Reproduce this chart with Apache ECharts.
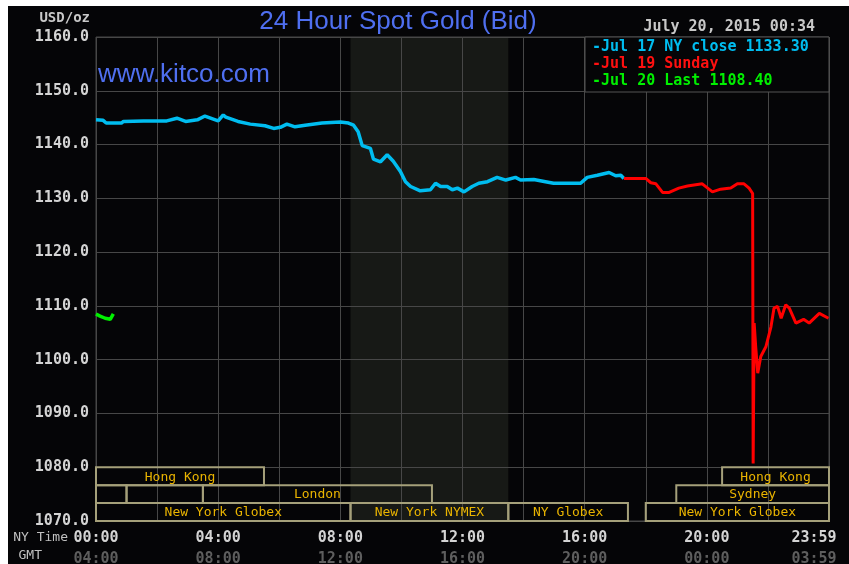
<!DOCTYPE html>
<html><head><meta charset="utf-8">
<script src="https://cdn.jsdelivr.net/npm/echarts@6/dist/echarts.min.js"></script>
<style>
html,body{margin:0;padding:0;background:#fff;width:849px;height:564px;overflow:hidden}
#c{position:absolute;left:8px;top:6px;width:841px;height:558px;background:#050507}
</style></head><body><div id="c"></div>
<script>
// ---- data ----
const yTicks = [1070,1080,1090,1100,1110,1120,1130,1140,1150,1160];
const xTickValues = [0,240,480,720,960,1200,1440];
const nyTickLabels = ['00:00','04:00','08:00','12:00','16:00','20:00','23:59'];
const gmtTickLabels = ['04:00','08:00','12:00','16:00','20:00','00:00','03:59'];

// Jul 17 (NY close) minutes since 00:00 NY time and price
const jul17Minutes = [0,14,20,50,54,93,139,159,176,199,214,240,250,255,279,303,332,349,362,375,391,411,444,480,496,506,515,523,539,545,559,572,584,598,608,618,637,657,667,677,690,700,710,723,739,752,769,788,805,824,834,860,883,899,919,952,965,985,1008,1021,1031,1037];
const jul17Values  = [1144.6,1144.5,1144.0,1144.0,1144.3,1144.4,1144.4,1144.9,1144.3,1144.6,1145.3,1144.4,1145.5,1145.1,1144.3,1143.8,1143.5,1143.0,1143.2,1143.8,1143.3,1143.6,1144.0,1144.2,1144.0,1143.6,1142.4,1139.8,1139.3,1137.3,1136.8,1138.1,1136.9,1135.0,1133.1,1132.2,1131.4,1131.6,1132.8,1132.2,1132.2,1131.6,1131.9,1131.2,1132.2,1132.8,1133.1,1133.9,1133.4,1133.9,1133.4,1133.5,1133.1,1132.8,1132.8,1132.8,1133.9,1134.3,1134.8,1134.2,1134.3,1133.7];

// Jul 19 Sunday
const jul19Minutes = [1037,1080,1090,1100,1113,1126,1145,1162,1191,1211,1227,1247,1260,1273,1283,1290,1291,1292,1293,1296,1300,1306,1316,1326,1332,1339,1346,1355,1362,1375,1390,1401,1421,1439];
const jul19Values  = [1133.7,1133.7,1132.9,1132.7,1131.1,1131.1,1131.9,1132.3,1132.7,1131.2,1131.7,1131.9,1132.7,1132.7,1131.9,1130.9,1080.7,1093.7,1106.8,1102.4,1097.5,1100.6,1102.4,1106.1,1109.6,1109.9,1107.7,1110.2,1109.6,1106.8,1107.5,1106.8,1108.6,1107.7];

// Jul 20 last
const jul20Minutes = [0,8,18,28,34];
const jul20Values  = [1108.5,1108.1,1107.7,1107.5,1108.5];

// trading sessions
const sessionNames = ['Hong Kong','Hong Kong','','','London','Sydney','New York Globex','New York NYMEX','NY Globex','New York Globex'];
const sessionRows  = [0,0,1,1,1,1,2,2,2,2];
const sessionStart = [0,1230,0,60,210,1140,0,500,810,1080];
const sessionEnd   = [330,1440,60,210,660,1440,500,810,1045,1440];

const nymexShade = [[500,810]];

const legendLines = ['-Jul 17 NY close 1133.30','-Jul 19 Sunday','-Jul 20 Last 1108.40'];
const dateText = 'July 20, 2015 00:34';

// ---- chart ----
const OX = 8, OY = 6;
const MONO = '"DejaVu Sans Mono", "Liberation Mono", monospace';
const zip = (a,b) => a.map((v,i)=>[v,b[i]]);
const chart = echarts.init(document.getElementById('c'), null, {renderer:'canvas'});

const option = {
  animation:false,
  backgroundColor:'#050507',
  grid:{left:96-OX, top:37-OY, width:733, height:484, outerBoundsMode:'none', containLabel:false,
    show:true, borderColor:'#474747', borderWidth:1, backgroundColor:'transparent'},
  xAxis:{type:'value', min:0, max:1440, interval:120,
    axisLine:{show:false}, axisTick:{show:false},
    splitLine:{show:true, lineStyle:{color:'#474747', width:1}},
    axisLabel:{margin:7, lineHeight:21, hideOverlap:false,
      formatter:function(v){
        const i = xTickValues.indexOf(v);
        if(i<0) return '';
        if(v===1440) return '{c|'+nyTickLabels[i]+'}\n{d|'+gmtTickLabels[i]+'}';
        return '{a|'+nyTickLabels[i]+'}\n{b|'+gmtTickLabels[i]+'}';
      },
      rich:{
        a:{fontFamily:MONO, fontWeight:'bold', fontSize:15, color:'#d4d4d4', lineHeight:21},
        b:{fontFamily:MONO, fontWeight:'bold', fontSize:15, color:'#5e5e5e', lineHeight:21},
        c:{fontFamily:MONO, fontWeight:'bold', fontSize:15, color:'#d4d4d4', lineHeight:21, padding:[0,30,0,0]},
        d:{fontFamily:MONO, fontWeight:'bold', fontSize:15, color:'#5e5e5e', lineHeight:21, padding:[0,30,0,0]}
      }
    }
  },
  yAxis:{type:'value', min:yTicks[0], max:yTicks[yTicks.length-1], interval:10,
    axisLine:{show:false}, axisTick:{show:false},
    splitLine:{show:true, lineStyle:{color:'#474747', width:1}},
    axisLabel:{margin:7, fontFamily:MONO, fontWeight:'bold', fontSize:15, color:'#d4d4d4',
      formatter:v=>v.toFixed(1)}
  },
  series:[
    {type:'custom', z:-1, silent:true, data:nymexShade,
      renderItem:function(params, api){
        const p1 = api.coord([api.value(0), 1160]);
        const p2 = api.coord([api.value(1), 1070]);
        return {type:'rect', shape:{x:p1[0], y:p1[1], width:p2[0]-p1[0], height:p2[1]-p1[1]}, style:{fill:'#171916'}};
      }},
    {type:'line', data:zip(jul17Minutes, jul17Values), showSymbol:false, silent:true,
      lineStyle:{color:'#00bdf0', width:3.5}},
    {type:'line', data:zip(jul19Minutes, jul19Values), showSymbol:false, silent:true,
      lineStyle:{color:'#ff0000', width:3}},
    {type:'line', data:zip(jul20Minutes, jul20Values), showSymbol:false, silent:true,
      lineStyle:{color:'#00f000', width:3.5}},
    {type:'custom', silent:true, z:5,
      data:sessionStart.map((s,i)=>[s, sessionEnd[i], sessionRows[i]]),
      renderItem:function(params, api){
        const s = api.value(0), e = api.value(1), row = api.value(2);
        const yTop = 1080 - row*10/3, yBot = yTop - 10/3;
        const p1 = api.coord([s, yTop]), p2 = api.coord([e, yBot]);
        return {type:'group', children:[
          {type:'rect', shape:{x:p1[0], y:p1[1], width:p2[0]-p1[0], height:p2[1]-p1[1]},
            style:{fill:null, stroke:'#a5a07a', lineWidth:2}},
          {type:'text', style:{text:sessionNames[params.dataIndex], x:(p1[0]+p2[0])/2, y:(p1[1]+p2[1])/2+1,
            align:'center', verticalAlign:'middle', fill:'#eab400', font:'13px '+MONO}}
        ]};
      }}
  ],
  graphic:[
    {type:'text', x:398-OX, y:22-OY, style:{text:'24 Hour Spot Gold (Bid)', fill:'#4f6ff0', font:'26px "Liberation Sans", Arial, sans-serif', align:'center', verticalAlign:'middle'}},
    {type:'text', x:98-OX, y:75-OY, z:10, style:{text:'www.kitco.com', fill:'#4f6ff0', font:'26px "Liberation Sans", Arial, sans-serif', verticalAlign:'middle'}},
    {type:'text', x:90-OX, y:18-OY, style:{text:'USD/oz', fill:'#c8c8c8', font:'bold 14px '+MONO, align:'right', verticalAlign:'middle'}},
    {type:'text', x:815-OX, y:27-OY, style:{text:dateText, fill:'#c8c8c8', font:'bold 15px '+MONO, align:'right', verticalAlign:'middle'}},
    {type:'rect', shape:{x:585-OX, y:37-OY, width:244, height:55}, style:{fill:'#050507', stroke:'#555', lineWidth:1}, z:20},
    {type:'text', x:592-OX, y:47-OY, z:21, style:{text:legendLines[0], fill:'#00bdf0', font:'bold 15px '+MONO, verticalAlign:'middle'}},
    {type:'text', x:592-OX, y:64-OY, z:21, style:{text:legendLines[1], fill:'#ff1010', font:'bold 15px '+MONO, verticalAlign:'middle'}},
    {type:'text', x:592-OX, y:81-OY, z:21, style:{text:legendLines[2], fill:'#00f000', font:'bold 15px '+MONO, verticalAlign:'middle'}},
    {type:'text', x:68-OX, y:538-OY, style:{text:'NY Time', fill:'#c0c0c0', font:'13px '+MONO, align:'right', verticalAlign:'middle'}},
    {type:'text', x:42-OX, y:556-OY, style:{text:'GMT', fill:'#c0c0c0', font:'13px '+MONO, align:'right', verticalAlign:'middle'}}
  ]
};
chart.setOption(option);
</script></body></html>
